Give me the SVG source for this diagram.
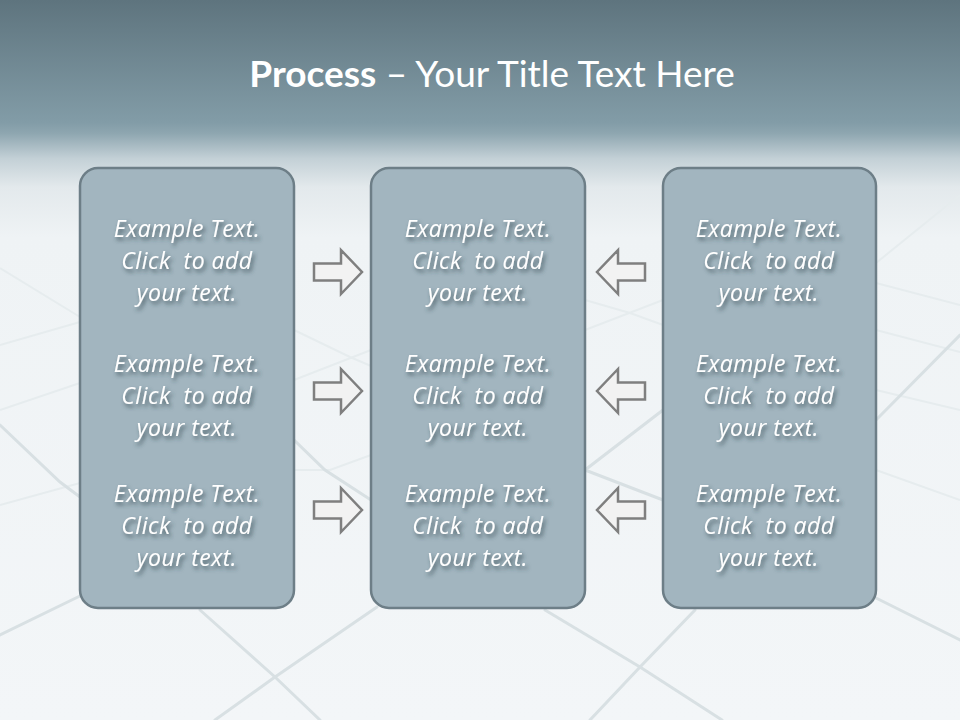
<svg xmlns="http://www.w3.org/2000/svg" width="960" height="720" viewBox="0 0 960 720">
<defs>
<linearGradient id="bg" x1="0" y1="0" x2="0" y2="1">
<stop offset="0" stop-color="#5e747e"/>
<stop offset="0.17" stop-color="#829ca7"/>
<stop offset="0.185" stop-color="#8ea6b0"/>
<stop offset="0.22" stop-color="#c3d0d6"/>
<stop offset="0.26" stop-color="#e3e9ec"/>
<stop offset="0.33" stop-color="#eff3f5"/>
<stop offset="1" stop-color="#f3f6f8"/>
</linearGradient>
<filter id="ts" x="-10%" y="-30%" width="130%" height="170%">
<feDropShadow dx="2" dy="3" stdDeviation="2" flood-color="#33444d" flood-opacity="0.8"/>
</filter>
<path id="ar" d="M0,-8.5 L27,-8.5 L27,-22 L48,0 L27,22 L27,8.5 L0,8.5 Z"/>
</defs>
<style>
.tile{stroke:#d8e0e3;stroke-width:3;fill:none;stroke-linecap:round}
.tilef{stroke:#e6ecee;stroke-width:2;fill:none}
.box{fill:#a2b5bf;stroke:#6d7e87;stroke-width:2.5}
.t{font-family:"Open Sans",Lato,sans-serif;font-style:italic;font-size:23px;letter-spacing:0.5px;fill:#ffffff;text-anchor:middle;white-space:pre}
.arrow{fill:#f2f2f2;stroke:#7f7f7f;stroke-width:2.5;stroke-linejoin:miter}
.title{font-family:Lato,"Open Sans",sans-serif;font-size:37px;fill:#ffffff;text-anchor:middle}
</style>
<rect x="0" y="0" width="960" height="720" fill="url(#bg)"/>
<g id="floor">
<g class="tilef">
<path d="M0,268 L80,317"/>
<path d="M0,345 L80,322"/>
<path d="M0,410 L80,383"/>
<path d="M0,505 L80,483"/>
<path d="M294,330 L350,357 L371,366"/>
<path d="M294,380 L371,350"/>
<path d="M585,330 L663,300"/>
<path d="M585,300 L630,313 L663,325"/>
<path d="M876,263 L960,195"/>
<path d="M876,283 L960,305"/>
<path d="M876,330 L960,352"/>
<path d="M876,390 L960,410"/>
<path d="M876,470 L960,500"/>
<path d="M294,470 L330,470 L371,455"/>
</g>
<g class="tile">
<path d="M0,425 L60,482 L80,497"/>
<path d="M294,440 L325,470 L371,500"/>
<path d="M585,470 L663,410"/>
<path d="M585,470 L663,500"/>
<path d="M876,420 L960,335"/>
<path d="M0,635 L82,595"/>
<path d="M200,610 L275,677 L320,720"/>
<path d="M377,607 L275,677 L215,720"/>
<path d="M545,610 L640,667 L722,720"/>
<path d="M695,610 L640,667 L590,720"/>
<path d="M876,598 L960,640"/>
</g>
</g>
<g id="title">
<text class="title" x="492" y="87"><tspan font-weight="bold">Process</tspan> – Your Title Text Here</text>
</g>
<g id="connectors">
<use href="#ar" class="arrow" transform="translate(314,272)"/>
<use href="#ar" class="arrow" transform="translate(314,391)"/>
<use href="#ar" class="arrow" transform="translate(314,510)"/>
<use href="#ar" class="arrow" transform="translate(645,272) scale(-1,1)"/>
<use href="#ar" class="arrow" transform="translate(645,391) scale(-1,1)"/>
<use href="#ar" class="arrow" transform="translate(645,510) scale(-1,1)"/>
</g>
<g id="box-left">
<rect class="box" x="80" y="168" width="214" height="440" rx="18"/>
<g filter="url(#ts)">
<text class="t" x="187" y="237">Example Text.</text>
<text class="t" x="187" y="269">Click  to add</text>
<text class="t" x="187" y="301">your text.</text>
<text class="t" x="187" y="372">Example Text.</text>
<text class="t" x="187" y="404">Click  to add</text>
<text class="t" x="187" y="436">your text.</text>
<text class="t" x="187" y="502">Example Text.</text>
<text class="t" x="187" y="534">Click  to add</text>
<text class="t" x="187" y="566">your text.</text>
</g>
</g>
<g id="box-middle">
<rect class="box" x="371" y="168" width="214" height="440" rx="18"/>
<g filter="url(#ts)">
<text class="t" x="478" y="237">Example Text.</text>
<text class="t" x="478" y="269">Click  to add</text>
<text class="t" x="478" y="301">your text.</text>
<text class="t" x="478" y="372">Example Text.</text>
<text class="t" x="478" y="404">Click  to add</text>
<text class="t" x="478" y="436">your text.</text>
<text class="t" x="478" y="502">Example Text.</text>
<text class="t" x="478" y="534">Click  to add</text>
<text class="t" x="478" y="566">your text.</text>
</g>
</g>
<g id="box-right">
<rect class="box" x="663" y="168" width="213" height="440" rx="18"/>
<g filter="url(#ts)">
<text class="t" x="769" y="237">Example Text.</text>
<text class="t" x="769" y="269">Click  to add</text>
<text class="t" x="769" y="301">your text.</text>
<text class="t" x="769" y="372">Example Text.</text>
<text class="t" x="769" y="404">Click  to add</text>
<text class="t" x="769" y="436">your text.</text>
<text class="t" x="769" y="502">Example Text.</text>
<text class="t" x="769" y="534">Click  to add</text>
<text class="t" x="769" y="566">your text.</text>
</g>
</g>
</svg>
